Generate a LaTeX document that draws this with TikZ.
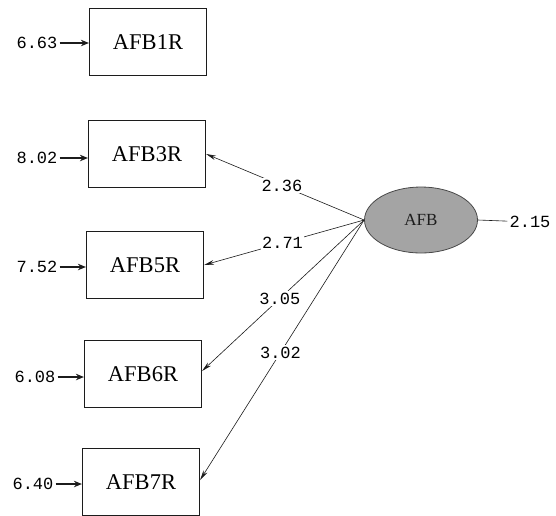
\documentclass[tikz,border=0pt]{standalone}
\usepackage{fontspec}
\setmainfont{Liberation Serif}
\newfontfamily\cifre{Liberation Mono}
\usetikzlibrary{arrows.meta,shapes.geometric}
\definecolor{grigiolatente}{HTML}{A4A4A4}
\definecolor{bordoscuro}{HTML}{1C1C1C}
\tikzset{
  indicatore/.style={draw=bordoscuro, line width=1.2pt, minimum width=117pt,
    minimum height=67pt, inner sep=0pt, font=\fontsize{22.5}{24}\selectfont},
  errore/.style={font=\cifre\fontsize{17}{19}\selectfont, inner sep=2pt},
  carico/.style={font=\cifre\fontsize{17}{19}\selectfont, fill=white, inner sep=1.5pt},
  freccia/.style={draw=bordoscuro, line width=0.6pt, -{Stealth[length=10pt,width=4.5pt]}},
  frecciaerr/.style={draw=bordoscuro, line width=1.3pt, -{Stealth[length=8pt,width=6.5pt]}},
}

\begin{document}
\begin{tikzpicture}[x=1pt,y=-1pt]

  % ---- Sfondo e cornice fissa -------------------------------------------
  \useasboundingbox (0,0) rectangle (556,515);
  \fill[white] (0,0) rectangle (556,515);

  % ---- Indicatori osservati (colonna a sinistra) ------------------------
  \node[indicatore] (b1) at (148,42)  {AFB1R};
  \node[indicatore] (b3) at (147,154) {AFB3R};
  \node[indicatore] (b5) at (145,265) {AFB5R};
  \node[indicatore] (b6) at (143,374) {AFB6R};
  \node[indicatore] (b7) at (141,482) {AFB7R};

  % Varianze d'errore, con la freccia corta verso il riquadro
  \node[errore] (e1) at (37,43)  {6.63};
  \node[errore] (e3) at (37,158) {8.02};
  \node[errore] (e5) at (37,267) {7.52};
  \node[errore] (e6) at (35,377) {6.08};
  \node[errore] (e7) at (33,484) {6.40};
  \foreach \i in {1,3,5,6,7}
    \draw[frecciaerr] (e\i) -- (e\i -| b\i.west);

  % ---- Variabile latente -------------------------------------------------
  \node[ellipse, draw=bordoscuro!80, line width=0.8pt, fill=grigiolatente,
        minimum width=113pt, minimum height=66pt,
        font=\fontsize{17}{19}\selectfont, text=bordoscuro] (afb) at (421,220) {AFB};
  \node[errore] (e0) at (530,222) {2.15};
  \draw[bordoscuro, line width=0.6pt] (afb.east) -- (e0);

  % ---- Carichi fattoriali ------------------------------------------------
  \draw[freccia] (afb.west) -- node[carico, pos=0.52] {2.36} (b3.east);
  \draw[freccia] (afb.west) -- node[carico, pos=0.51] {2.71} (b5.east);
  \draw[freccia] (afb.west) -- node[carico, pos=0.52] {3.05} ([yshift=3pt]b6.east);
  \draw[freccia] (afb.west) -- node[carico, pos=0.51] {3.02} ([yshift=2pt]b7.east);

\end{tikzpicture}
\end{document}
